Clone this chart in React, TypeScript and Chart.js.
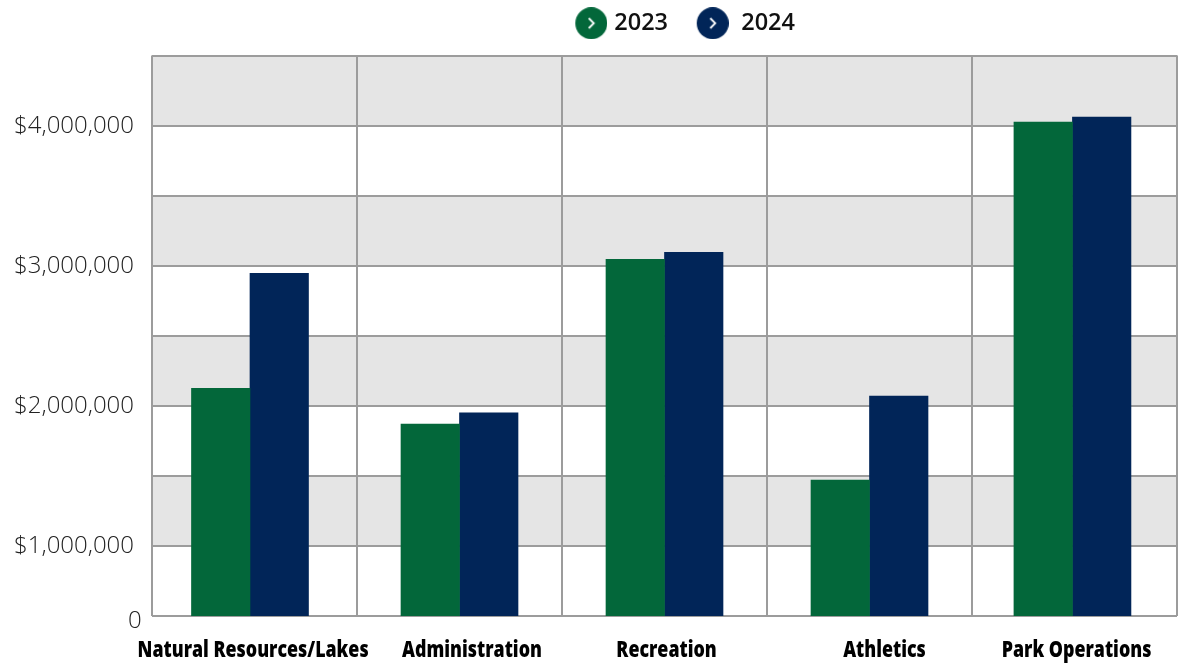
import React, { useEffect, useRef } from "react";
import { Chart, registerables } from "chart.js";

Chart.register(...registerables);

const categories = ["Natural Resources/Lakes", "Administration", "Recreation", "Athletics", "Park Operations"];
const seriesNames = ["2023", "2024"];
const values2023 = [2125000, 1870000, 3045000, 1470000, 4025000];
const values2024 = [2945000, 1950000, 3095000, 2070000, 4060000];
const yTickLabels = ["$1,000,000", "$2,000,000", "$3,000,000", "$4,000,000"];
const baseLabel = "0";

// Layout nudges, in units of one category, as in the reference
const barShift = [-0.022, 0, 0, 0, -0.01];
const labelShift = [-0.007, 0.061, 0.01, 0.073, 0.01];
const markerShift = [8.5, 3];
const LABEL_SQUEEZE = 0.81;

const GREEN = "#03673A";
const NAVY = "#012558";
const GRID = "#9C9C9C";
const BAND = "#E5E5E5";

function marker(color: string, shift: number) {
  const c = document.createElement("canvas");
  c.width = 32 + 2 * shift;
  c.height = 32;
  const g = c.getContext("2d")!;
  const cx = 16 + 2 * shift;
  g.fillStyle = color;
  g.beginPath();
  g.arc(cx, 16, 16, 0, Math.PI * 2);
  g.fill();
  g.strokeStyle = "#ffffff";
  g.lineWidth = 1.8;
  g.beginPath();
  g.moveTo(cx - 2.5, 11);
  g.lineTo(cx + 2.5, 16);
  g.lineTo(cx - 2.5, 21);
  g.stroke();
  return c;
}

const layoutPlugin = {
  id: "legendPlace",
  afterLayout(chart: any) {
    const l = chart.legend;
    l.left += 181;
    l.top -= 10.5;
    l.bottom -= 10.5;
  },
};

const bandPlugin = {
  id: "bands",
  beforeDraw(chart: any) {
    const { ctx, chartArea: a, scales } = chart;
    ctx.save();
    ctx.fillStyle = "#ffffff";
    ctx.fillRect(0, 0, chart.width, chart.height);
    ctx.fillStyle = BAND;
    const y = scales.y;
    for (let v = 4000000; v >= 1000000; v -= 1000000) {
      const top = y.getPixelForValue(v + 500000);
      const bottom = y.getPixelForValue(v);
      ctx.fillRect(a.left, top, a.right - a.left + 1, bottom - top);
    }
    ctx.restore();
  },
};

export default function App() {
  const ref = useRef<HTMLCanvasElement>(null);
  useEffect(() => {
    const tickFont = { family: "'Open Sans'", size: 24, weight: "300" as any };
    const toPoints = (vals: number[]) => vals.map((y, i) => ({ x: i + 0.5 + barShift[i], y }));
    const chart = new Chart(ref.current!, {
      type: "bar",
      data: {
        datasets: [
          { label: seriesNames[0], data: toPoints(values2023), backgroundColor: GREEN, xAxisID: "x", yAxisID: "y" },
          { label: seriesNames[1], data: toPoints(values2024), backgroundColor: NAVY, xAxisID: "x", yAxisID: "y" },
        ],
      } as any,
      plugins: [bandPlugin, layoutPlugin],
      options: {
        animation: false,
        responsive: false,
        layout: { padding: { left: 0, right: 3, top: 0, bottom: 0 } },
        datasets: { bar: { barThickness: 58.5 } },
        plugins: {
          tooltip: { enabled: false },
          legend: {
            position: "top",
            align: "center",
            labels: {
              usePointStyle: true,
              pointStyleWidth: 39.5,
              padding: 22,
              color: "#111111",
              font: { family: "'Open Sans'", size: 23.5, weight: "600" as any },
              generateLabels: () =>
                [GREEN, NAVY].map((c, i) => ({
                  text: seriesNames[i],
                  pointStyle: marker(c, markerShift[i]),
                  fontColor: "#111111",
                  fillStyle: c,
                  strokeStyle: c,
                  lineWidth: 0,
                  datasetIndex: i,
                })) as any,
            },
          },
        },
        scales: {
          x: {
            type: "linear",
            min: 0,
            max: 5,
            position: "bottom",
            offset: false,
            ticks: { display: false, stepSize: 1 },
            grid: { color: GRID, lineWidth: 2, drawTicks: false, offset: false },
            border: { display: false },
            afterFit: (s: any) => { s.height = 0; },
          },
          xLabels: {
            type: "linear",
            min: 0,
            max: 5,
            position: "bottom",
            offset: false,
            grid: { display: false, drawTicks: false, offset: false },
            border: { display: false },
            afterBuildTicks: (s: any) => {
              s.ticks = categories.map((_, i) => ({ value: i + 0.5 + labelShift[i] }));
              if (!s._squeezed) {
                s._squeezed = true;
                const items = s._computeLabelItems;
                s._computeLabelItems = function (area: any) {
                  const list = items.call(this, area);
                  list.forEach((it: any) => { it.options.translation[0] /= LABEL_SQUEEZE; });
                  return list;
                };
                s._computeLabelArea = () => undefined;
                const draw = s.drawLabels;
                s.drawLabels = function (area: any) {
                  this.ctx.save();
                  this.ctx.scale(LABEL_SQUEEZE, 1);
                  draw.call(this, area);
                  this.ctx.restore();
                };
              }
            },
            ticks: {
              autoSkip: false,
              maxRotation: 0,
              minRotation: 0,
              padding: 22,
              color: "#000000",
              font: { family: "'Open Sans'", size: 22, weight: "800" } as any,
              callback: (_: any, i: number) => categories[i],
            },
            afterFit: (s: any) => {
              s.height = 48;
              s.paddingLeft = 0;
              s.paddingRight = 0;
            },
          },
          y: {
            type: "linear",
            min: 500000,
            max: 4500000,
            position: "left",
            weight: 1,
            grid: { color: GRID, lineWidth: 2, drawTicks: false },
            border: { display: false },
            ticks: {
              stepSize: 500000,
              padding: 18,
              labelOffset: 0.5,
              color: "#222222",
              font: tickFont,
              autoSkip: false,
              callback: (v: any) => (v % 1000000 === 0 ? yTickLabels[v / 1000000 - 1] : ""),
            },
            afterFit: (s: any) => { s.width = 152; },
          },
          yBase: {
            type: "linear",
            min: 500000,
            max: 4500000,
            position: "left",
            weight: 0,
            grid: { display: false, drawTicks: false },
            border: { display: false },
            afterBuildTicks: (s: any) => { s.ticks = [{ value: 500000 }]; },
            ticks: {
              mirror: true,
              padding: -24,
              labelOffset: 5,
              color: "#222222",
              font: tickFont,
              autoSkip: false,
              callback: () => baseLabel,
            },
            afterFit: (s: any) => { s.width = 0; },
          },
        },
      } as any,
    });
    return () => chart.destroy();
  }, []);
  return <canvas ref={ref} width={1180} height={664} style={{ position: "fixed", left: 0, top: 0, display: "block" }} />;
}
